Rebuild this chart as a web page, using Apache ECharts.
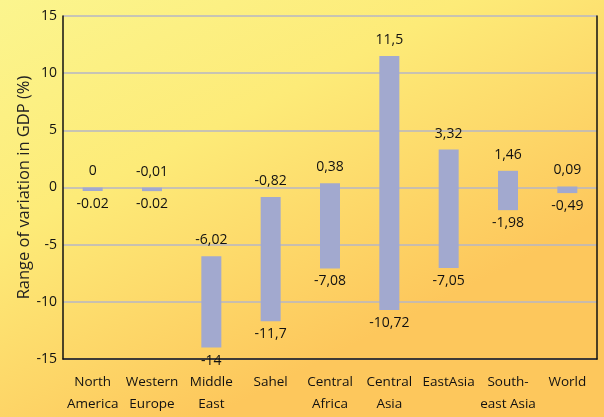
<!DOCTYPE html>
<html>
<head>
<meta charset="utf-8">
<script src="https://cdn.jsdelivr.net/npm/echarts@6/dist/echarts.min.js"></script>
<style>
html,body{margin:0;padding:0;}
#chart{width:604px;height:417px;}
</style>
</head>
<body>
<div id="chart"></div>
<script>
const categories = ['North\nAmerica','Western\nEurope','Middle\nEast','Sahel','Central\nAfrica','Central\nAsia','EastAsia','South-\neast Asia','World'];
const maxValues = [0, -0.01, -6.02, -0.82, 0.38, 11.5, 3.32, 1.46, 0.09];
const minValues = [-0.02, -0.02, -14, -11.7, -7.08, -10.72, -7.05, -1.98, -0.49];
const maxLabels = ['0', '-0,01', '-6,02', '-0,82', '0,38', '11,5', '3,32', '1,46', '0,09'];
const minLabels = ['-0.02', '-0.02', '-14', '-11,7', '-7,08', '-10,72', '-7,05', '-1,98', '-0,49'];
const yTicks = [-15, -10, -5, 0, 5, 10, 15];

const FONT = '"Open Sans", sans-serif';
const FS = 14;
const chart = echarts.init(document.getElementById('chart'));
const data = categories.map((c, i) => [i, minValues[i], maxValues[i]]);

chart.setOption({
  animation: false,
  backgroundColor: {
    type: 'linear', x: 0, y: 0, x2: 0.35, y2: 1,
    colorStops: [
      {offset: 0, color: '#fbf58e'},
      {offset: 0.45, color: '#fdeb78'},
      {offset: 1, color: '#fdc75c'}
    ]
  },
  grid: {left: 63, right: 7, top: 16, bottom: 58},
  xAxis: {
    type: 'category',
    data: categories,
    boundaryGap: true,
    axisLine: {show: true, onZero: false, lineStyle: {color: '#111', width: 1.5}},
    axisTick: {show: false},
    axisLabel: {color: '#111', fontFamily: FONT, fontSize: 13.5, lineHeight: 22, margin: 12, interval: 0}
  },
  yAxis: [{
    type: 'value',
    min: yTicks[0], max: yTicks[yTicks.length - 1], interval: 5,
    name: 'Range of variation in GDP (%)',
    nameLocation: 'middle',
    nameGap: 30,
    nameMoveOverlap: false,
    nameTextStyle: {color: '#222', fontFamily: FONT, fontSize: 16.5},
    axisLine: {show: true, lineStyle: {color: '#111', width: 1.5}},
    axisTick: {show: false},
    axisLabel: {color: '#111', fontFamily: FONT, fontSize: FS, margin: 6},
    splitLine: {show: true, lineStyle: {color: '#b6b6c6', width: 1.5}}
  }, {
    type: 'value', position: 'right',
    min: yTicks[0], max: yTicks[yTicks.length - 1], interval: 5,
    axisLine: {show: true, lineStyle: {color: '#111', width: 1.5}},
    axisTick: {show: false}, axisLabel: {show: false}, splitLine: {show: false}
  }],
  series: [{
    type: 'custom',
    data: data,
    encode: {x: 0, y: [1, 2]},
    renderItem: function (params, api) {
      const i = api.value(0);
      const lo = api.value(1), hi = api.value(2);
      const pTop = api.coord([i, hi]);
      const pBot = api.coord([i, lo]);
      const w = 20;
      let h = pBot[1] - pTop[1];
      if (h < 3.5) h = 3.5;
      const ts = {fill: '#111', font: FS + 'px ' + FONT, align: 'center', verticalAlign: 'middle'};
      return {
        type: 'group',
        children: [
          {type: 'rect', shape: {x: pTop[0] - w / 2, y: pTop[1], width: w, height: h}, style: {fill: '#a2a9cf'}},
          {type: 'text', x: pTop[0], y: pTop[1] - 16, style: Object.assign({text: maxLabels[i]}, ts)},
          {type: 'text', x: pTop[0], y: pTop[1] + h + 13, style: Object.assign({text: minLabels[i]}, ts)}
        ]
      };
    }
  }]
});
</script>
</body>
</html>
